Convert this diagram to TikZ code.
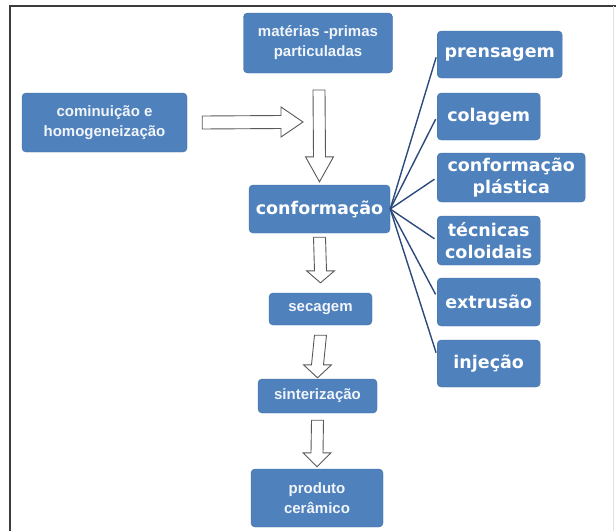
\documentclass[tikz,border=0pt]{standalone}
\usepackage{fontspec}
\setmainfont{Liberation Sans}
\newfontfamily\bigsans{DejaVu Sans}
\usetikzlibrary{calc}

\definecolor{boxblue}{HTML}{4F81BD}
\definecolor{edgeblue}{HTML}{2C4A7C}
\definecolor{framegray}{HTML}{3C3C3C}

\tikzstyle{blk}=[fill=boxblue, draw=boxblue!85!black, line width=0.4pt, rounded corners=4pt, text=white, align=center, inner sep=0pt]
\tikzstyle{small}=[blk, text=white!92!boxblue, font=\bfseries\fontsize{15}{20}\selectfont]
\tikzstyle{big}=[blk, font=\bigsans\bfseries\fontsize{17.5}{22}\selectfont]
\tikzstyle{side}=[big, anchor=west, minimum width=103pt, minimum height=48pt]
\tikzstyle{ed}=[color=edgeblue, line width=1.4pt, shorten >=3pt]
\tikzstyle{hollow}=[draw=black!65, fill=white, line width=0.9pt, line join=miter]

% block arrows: #2 top of shaft, #3 tip, #1 head length
\newcommand{\downblock}[3][13]{%
  \draw[hollow] ($(#2)+(-6,0)$) -- ($(#3)+(-6,-#1)$) -- ($(#3)+(-14,-#1)$) -- (#3)
    -- ($(#3)+(14,-#1)$) -- ($(#3)+(6,-#1)$) -- ($(#2)+(6,0)$) -- cycle;}
\newcommand{\rightblock}[3][22]{%
  \draw[hollow] ($(#2)+(0,-6.5)$) -- ($(#3)+(-#1,-6.5)$) -- ($(#3)+(-#1,-15)$) -- (#3)
    -- ($(#3)+(-#1,15)$) -- ($(#3)+(-#1,6.5)$) -- ($(#2)+(0,6.5)$) -- cycle;}

\begin{document}
\begin{tikzpicture}[x=1pt, y=-1pt]
  \useasboundingbox (0,0) rectangle (616,531);
  \draw[framegray, line width=2pt] (10,531) -- (10,6) -- (616,6);
  \draw[black!12, line width=1pt] (613,6) -- (613,531);

  % main column
  \node[small, minimum width=149pt, minimum height=60pt] (mat) at (318,43) {matérias -primas\\particuladas};
  \node[small, minimum width=165pt, minimum height=59pt] (comin) at (104.5,122.5) {cominuição e\\homogeneização};
  \node[big, minimum width=141pt, minimum height=48pt] (conf) at (319.5,209) {conformação};
  \node[small, minimum width=103pt, minimum height=32pt] (sec) at (320.5,309) {secagem};
  \node[small, minimum width=119pt, minimum height=34pt] (sint) at (317.5,396) {sinterização};
  \node[small, minimum width=132pt, minimum height=58pt] (prod) at (317,498) {produto\\cerâmico};

  % techniques
  \node[side, minimum width=125pt, minimum height=47pt] (prens) at (437,54.5) {prensagem};
  \node[side, minimum height=47pt] (colag) at (437,116.5) {colagem};
  \node[side, minimum width=148pt, minimum height=49pt] (plast) at (437,177.5) {conformação\\plástica};
  \node[side, minimum height=49pt] (tecn) at (437,240.5) {técnicas\\coloidais};
  \node[side] (extr) at (437,302) {extrusão};
  \node[side, minimum height=47pt] (injec) at (437,363.5) {injeção};

  \coordinate (a1s) at ([xshift=15pt]comin.east);
  \coordinate (a1e) at (303,122);
  \coordinate (a2s) at (319,90);
  \coordinate (a2e) at ([yshift=3pt]conf.north);
  \coordinate (a3s) at ([yshift=-4pt]conf.south);
  \coordinate (a3e) at ([yshift=10pt]sec.north);
  \coordinate (a4s) at ([yshift=-10pt]sec.south);
  \coordinate (a4e) at ([yshift=1pt]sint.north);
  \coordinate (a5s) at ([yshift=-7pt]sint.south);
  \coordinate (a5e) at ([yshift=2pt]prod.north);

  \rightblock{a1s}{a1e}
  \downblock[25]{a2s}{a2e}
  \downblock[12]{a3s}{a3e}
  \downblock[13]{a4s}{a4e}
  \downblock[14]{a5s}{a5e}

  \path (conf.east) edge [ed] (prens.west);
  \path (conf.east) edge [ed] (colag.west);
  \path (conf.east) edge [ed] (plast.west);
  \path (conf.east) edge [ed] (tecn.west);
  \path (conf.east) edge [ed] ([yshift=5pt]extr.west);
  \path (conf.east) edge [ed] ([yshift=8pt]injec.west);
\end{tikzpicture}
\end{document}
